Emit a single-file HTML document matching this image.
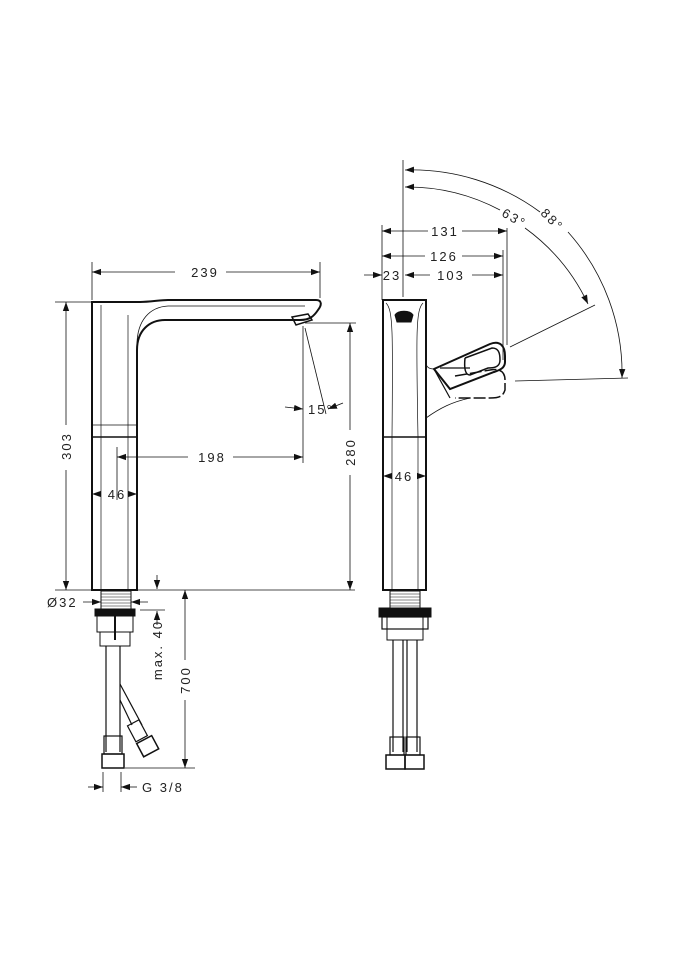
<!DOCTYPE html>
<html><head><meta charset="utf-8"><style>
html,body{margin:0;padding:0;background:#fff;}
svg{display:block;}
text{font-family:"Liberation Sans",sans-serif;font-size:13px;fill:#222;letter-spacing:2px;}
</style></head><body>
<svg width="675" height="960" viewBox="0 0 675 960" xmlns="http://www.w3.org/2000/svg">
<defs>
<marker id="a" viewBox="0 0 10 10" refX="10" refY="5" markerWidth="9" markerHeight="9" orient="auto-start-reverse" markerUnits="userSpaceOnUse"><path d="M0,1.5 L10,5 L0,8.5 z" fill="#111"/></marker>
</defs>
<g fill="none" stroke="#111" stroke-width="1">
<!-- LEFT FAUCET -->
<path d="M92,590 L92,302 L140,302 C150,302 160,300 168,300 L316,300 C322,300 322,305 318,310 C314,316 310,320 300,320 L165,320 C150,320 137,330 137,350 L137,590 Z" stroke-width="2"/>
<path d="M137,345 C137,320 150,307 168,306 L305,306" stroke-width="0.8"/>
<path d="M292,317 L308,314 L312,320 L296,325 Z" stroke-width="1.5"/>
<line x1="101" y1="305" x2="101" y2="590" stroke-width="0.7"/>
<line x1="128" y1="315" x2="128" y2="590" stroke-width="0.7"/>
<line x1="92" y1="425" x2="137" y2="425" stroke-width="0.7"/>
<line x1="92" y1="437" x2="137" y2="437" stroke-width="1.5"/>
<!-- left base -->
<rect x="101" y="591" width="30" height="18"/>
<g stroke-width="0.5"><line x1="101" y1="594" x2="131" y2="594"/><line x1="101" y1="597" x2="131" y2="597"/><line x1="101" y1="600" x2="131" y2="600"/><line x1="101" y1="603" x2="131" y2="603"/><line x1="101" y1="606" x2="131" y2="606"/></g>
<rect x="95" y="609" width="40" height="7" fill="#111"/>
<rect x="97" y="616" width="36" height="16"/>
<rect x="100" y="632" width="30" height="14"/>
<line x1="115" y1="616" x2="115" y2="640" stroke-width="2"/>
<line x1="106" y1="646" x2="106" y2="752" stroke-width="1.2"/>
<line x1="120" y1="646" x2="120" y2="752" stroke-width="1.2"/>
<path d="M120,684 L142,725 M120,700 L132,725" stroke-width="1.2"/>
<rect x="104" y="736" width="18" height="18" stroke-width="1.2"/>
<rect x="102" y="754" width="22" height="14" stroke-width="1.5"/>
<rect x="131" y="722" width="13" height="18" transform="rotate(-28 137 731)" stroke-width="1.2"/>
<rect x="139" y="739" width="17" height="15" transform="rotate(-28 147 746)" stroke-width="1.5"/>
<!-- left dims -->
<g stroke-width="0.8">
<line x1="92" y1="262" x2="92" y2="300"/><line x1="320" y1="262" x2="320" y2="298"/>
<line x1="92" y1="272" x2="175" y2="272" marker-start="url(#a)"/><line x1="226" y1="272" x2="320" y2="272" marker-end="url(#a)"/>
<line x1="55" y1="302" x2="92" y2="302"/>
<line x1="66" y1="302" x2="66" y2="425" marker-start="url(#a)"/><line x1="66" y1="470" x2="66" y2="590" marker-end="url(#a)"/>
<line x1="55" y1="590" x2="355" y2="590"/>
<line x1="305" y1="323" x2="356" y2="323"/>
<line x1="350" y1="323" x2="350" y2="430" marker-start="url(#a)"/><line x1="350" y1="475" x2="350" y2="590" marker-end="url(#a)"/>
<line x1="303" y1="326" x2="303" y2="463"/>
<line x1="117" y1="447" x2="117" y2="500"/>
<line x1="117" y1="457" x2="188" y2="457" marker-start="url(#a)"/><line x1="233" y1="457" x2="303" y2="457" marker-end="url(#a)"/>
<line x1="305" y1="328" x2="326" y2="414"/>
<line x1="285" y1="407" x2="303" y2="409" marker-end="url(#a)"/>
<line x1="343" y1="403" x2="328" y2="409" marker-end="url(#a)"/>
<line x1="92" y1="494" x2="93" y2="494" marker-start="url(#a)"/>
<line x1="130" y1="494" x2="137" y2="494" marker-end="url(#a)"/>
<line x1="83" y1="602" x2="101" y2="602" marker-end="url(#a)"/>
<line x1="148" y1="602" x2="131" y2="602" marker-end="url(#a)"/>
<line x1="157" y1="575" x2="157" y2="589" marker-end="url(#a)"/>
<line x1="157" y1="625" x2="157" y2="611" marker-end="url(#a)"/>
<line x1="140" y1="610" x2="165" y2="610"/>
<line x1="185" y1="590" x2="185" y2="660" marker-start="url(#a)"/><line x1="185" y1="700" x2="185" y2="768" marker-end="url(#a)"/>
<line x1="125" y1="768" x2="195" y2="768"/>
<line x1="103" y1="772" x2="103" y2="792"/><line x1="121" y1="772" x2="121" y2="792"/>
<line x1="88" y1="787" x2="103" y2="787" marker-end="url(#a)"/>
<line x1="137" y1="787" x2="121" y2="787" marker-end="url(#a)"/>
</g>
<!-- RIGHT FAUCET -->
<rect x="383" y="300" width="43" height="290" stroke-width="2"/>
<path d="M395,315 C398,310 410,310 413,315 L411,322 L397,322 Z" fill="#111"/>
<path d="M386,303 C393,310 393,330 392,437 M423,303 C416,310 416,330 418,437" stroke-width="0.7"/>
<line x1="383" y1="437" x2="426" y2="437" stroke-width="1.5"/>
<line x1="392" y1="437" x2="392" y2="590" stroke-width="0.7"/>
<line x1="418" y1="437" x2="418" y2="590" stroke-width="0.7"/>
<path d="M426,362 C426,368 430,369 434,369 M426,418 C440,408 452,402 470,398" stroke-width="0.8"/>
<path d="M434,369 L490,344 C500,340 505,346 505,356 L505,362 C505,368 500,370 494,372 L450,389 Z" stroke-width="2"/>
<path d="M465,358 L492,348 C498,348 500,352 500,360 C500,366 496,368 488,368 L470,375 C465,375 464,368 465,358" stroke-width="1.5"/>
<path d="M455,376 L490,370 C500,368 505,372 505,380 L505,390 C503,396 500,398 490,398 L455,398" stroke-width="1.5" stroke-dasharray="12 3"/>
<path d="M434,369 L450,398 M440,368 L470,368" stroke-width="1.2"/>
<!-- right base -->
<rect x="390" y="591" width="30" height="17"/>
<g stroke-width="0.5"><line x1="390" y1="594" x2="420" y2="594"/><line x1="390" y1="597" x2="420" y2="597"/><line x1="390" y1="600" x2="420" y2="600"/><line x1="390" y1="603" x2="420" y2="603"/><line x1="390" y1="606" x2="420" y2="606"/></g>
<rect x="379" y="608" width="52" height="9" fill="#111"/>
<rect x="382" y="617" width="46" height="12" stroke-width="1.2"/>
<rect x="387" y="617" width="36" height="23"/>
<line x1="393" y1="640" x2="393" y2="752" stroke-width="1.2"/><line x1="403" y1="640" x2="403" y2="752" stroke-width="1.2"/>
<line x1="407" y1="640" x2="407" y2="752" stroke-width="1.2"/><line x1="417" y1="640" x2="417" y2="752" stroke-width="1.2"/>
<rect x="390" y="737" width="14" height="18" stroke-width="1.2"/><rect x="406" y="737" width="14" height="18" stroke-width="1.2"/>
<rect x="386" y="755" width="19" height="14" stroke-width="1.5"/><rect x="405" y="755" width="19" height="14" stroke-width="1.5"/>
<!-- right dims -->
<g stroke-width="0.8">
<line x1="403" y1="160" x2="403" y2="297"/>
<line x1="382" y1="225" x2="382" y2="300"/>
<line x1="507" y1="228" x2="507" y2="345"/>
<line x1="503" y1="250" x2="503" y2="360"/>
<line x1="382" y1="231" x2="428" y2="231" marker-start="url(#a)"/><line x1="462" y1="231" x2="507" y2="231" marker-end="url(#a)"/>
<line x1="382" y1="256" x2="425" y2="256" marker-start="url(#a)"/><line x1="462" y1="256" x2="503" y2="256" marker-end="url(#a)"/>
<line x1="364" y1="275" x2="382" y2="275" marker-end="url(#a)"/>
<line x1="405" y1="275" x2="430" y2="275" marker-start="url(#a)"/><line x1="472" y1="275" x2="503" y2="275" marker-end="url(#a)"/>
<path d="M405,170 A215,213 0 0 1 540,212" marker-start="url(#a)"/>
<path d="M568,232 A215,213 0 0 1 622,378" marker-end="url(#a)"/>
<path d="M405,187 A198,198 0 0 1 500,210" marker-start="url(#a)"/>
<path d="M525,228 A198,198 0 0 1 588,304" marker-end="url(#a)"/>
<line x1="510" y1="347" x2="595" y2="305"/>
<line x1="515" y1="381" x2="628" y2="378"/>
<line x1="383" y1="476" x2="384" y2="476" marker-start="url(#a)"/>
<line x1="418" y1="476" x2="426" y2="476" marker-end="url(#a)"/>
</g>
</g>
<!-- labels -->
<text x="205" y="277" text-anchor="middle">239</text>
<text x="212" y="462" text-anchor="middle">198</text>
<text x="117" y="499" text-anchor="middle">46</text>
<text x="308" y="414" font-size="12">15°</text>
<text transform="translate(71,446) rotate(-90)" text-anchor="middle">303</text>
<text transform="translate(355,452) rotate(-90)" text-anchor="middle">280</text>
<text x="47" y="607">Ø32</text>
<text transform="translate(162,650) rotate(-90)" text-anchor="middle" font-size="12">max. 40</text>
<text transform="translate(190,680) rotate(-90)" text-anchor="middle">700</text>
<text x="142" y="792">G 3/8</text>
<text x="445" y="236" text-anchor="middle">131</text>
<text x="444" y="261" text-anchor="middle">126</text>
<text x="392" y="280" text-anchor="middle">23</text>
<text x="451" y="280" text-anchor="middle">103</text>
<text x="404" y="481" text-anchor="middle">46</text>
<text transform="translate(512,222) rotate(30)" text-anchor="middle" font-size="12">63°</text>
<text transform="translate(549,223) rotate(45)" text-anchor="middle" font-size="12">88°</text>
</svg>
</body></html>
